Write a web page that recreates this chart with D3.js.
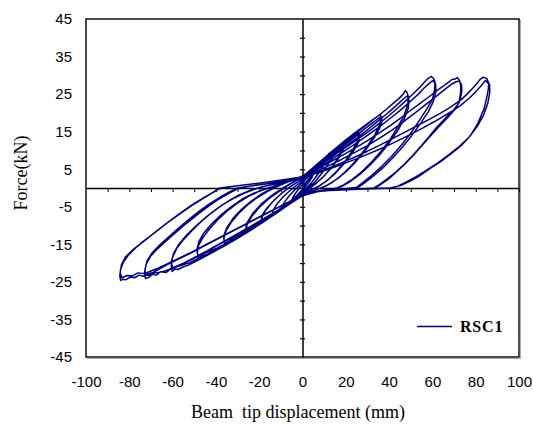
<!DOCTYPE html>
<html lang="en">
<head>
<meta charset="utf-8">
<title>RSC1 hysteresis</title>
<script src="https://d3js.org/d3.v7.min.js"></script>
<style>
  body { margin: 0; background: #fff; }
  .lab text { font-family: "Liberation Sans", Arial, sans-serif; font-size: 15px; fill: #000; }
  .cross path, .cross line { stroke: #000; }
</style>
</head>
<body>
<div id="chart"></div>
<script>
// tick labels and minor tick positions
var xLabels = [-100, -80, -60, -40, -20, 0, 20, 40, 60, 80, 100]
var yLabels = [45, 35, 25, 15, 5, -5, -15, -25, -35, -45]
var xMinor = [-90, -80, -70, -60, -50, -40, -30, -20, -10, 10, 20, 30, 40, 50, 60, 70, 80, 90, 100]
var yMinor = [-40, -35, -30, -25, -20, -15, -10, -5, 5, 10, 15, 20, 25, 30, 35, 40]

var cycleA = [[0,0],[1.5,1.2],[3,2.3],[5,3.8],[4.5,3],[3,1.6],[1.5,0.5],[0,-0.4],[-1.5,-1.3],[-3,-2.2],[-5,-3.4],[-4.5,-2.6],[-3,-1.2],[-1.5,0],[0,0.8],
  [2,1.8],[4,3.2],[6,4.5],[8,5.8],[10,7],[9.6,6],[8,4.4],[6,2.8],[4,1.3],[2,0.1],[0,-0.8],[-2,-1.8],[-4,-2.9],[-6,-3.9],[-8,-4.9],[-10,-5.9],[-9.6,-4.9],[-8,-3.5],[-6,-2],[-4,-0.7],[-2,0.4],[0,1.4]]
var cycleB = [[2,2.6],[5,4.3],[8,6],[11,7.8],[14,9.6],[13.6,8.3],[12,6.5],[9,4],[6,1.8],[3,0.1],[0,-1],[-3,-2.3],[-6,-3.6],[-9,-5],[-12,-6.3],[-14,-7.2],[-13.6,-6],[-12,-4.4],[-9,-2.4],[-6,-0.8],[-3,0.6],[0,1.8]]
var cycleC = [[3,3.2],[6,4.9],[10,7.1],[14,9.3],[17,11],[19,12.1],[18.7,10.6],[17,8.6],[14,5.9],[10,3.2],[6,1.1],[3,-0.2],[0,-1.2],[-4,-2.8],[-8,-4.5],[-12,-6.2],[-16,-7.8],[-19,-9],[-18.6,-7.6],[-17,-5.9],[-14,-3.8],[-10,-1.6],[-6,0.2],[-3,1.3],[0,2.3]]
var cycleD = [[3,3.4],[7,5.3],[11,7.5],[15,9.6],[18,11.2],[19.3,11.8],[18.8,10.2],[16.5,7.8],[13,5.1],[9,2.6],[5,0.7],[2,-0.5],[0,-1.3],[-4,-3],[-9,-5],[-13,-6.6],[-17,-8.1],[-19.2,-8.8],[-18.7,-7.3],[-16.5,-5.4],[-13,-3.2],[-9,-1.1],[-5,0.6],[-2,1.7],[0,2.5]]
var cycleE = [[4,4.3],[8,6.4],[12,8.5],[16,10.5],[20,12.3],[23,13.6],[26,14.7],[25.6,12.9],[23.5,10.4],[20,7.4],[16,4.6],[12,2.3],[8,0.6],[4,-0.5],[0,-1.6],[-5,-3.5],[-10,-5.5],[-15,-7.6],[-19,-9.2],[-23,-10.6],[-26,-11.6],[-25.7,-9.9],[-23.5,-7.6],[-20,-5.2],[-15,-2.6],[-10,-0.6],[-5,1.3],[0,2.9]]
var cycleF = [[4,4.5],[9,6.8],[14,9.2],[18,11.2],[22,12.9],[25,14],[26.4,14.2],[25.9,12.2],[23,9.3],[19,6.3],[15,3.8],[11,1.8],[7,0.3],[3,-0.7],[0,-1.6],[-5,-3.7],[-11,-6],[-16,-8],[-20.5,-9.6],[-24,-10.8],[-26.3,-11.3],[-25.8,-9.4],[-23,-6.8],[-19,-4.2],[-14,-1.9],[-9,0],[-4,1.7],[0,3]]
var cycleG = [[4,5],[8,7],[12,9],[16,10.9],[20,12.8],[24,14.6],[28,16.3],[32,18],[34.5,19],[36,19.6],[36.3,18.6],[35.6,16.8],[33.5,14.3],[30,11.2],[26,8.2],[22,5.6],[18,3.4],[14,1.6],[10,0.3],[6,-0.5],[3,-1.1],[0,-1.9],
  [-4,-3.4],[-8,-5],[-12,-6.6],[-16,-8.1],[-20,-9.6],[-24,-11],[-28,-12.3],[-31.5,-13.5],[-34,-14.2],[-36,-14.7],[-36.3,-13.4],[-35.4,-11.5],[-33,-9.2],[-29.5,-6.8],[-25.5,-4.6],[-21,-2.6],[-16.5,-1],[-12,0.3],[-8,1.3],[-4,2.2],[0,3.1]]
var cycleH = [[4,4.6],[9,6.6],[14,8.9],[19,11.2],[24,13.5],[28,15.4],[32,17.2],[35,18.5],[36.5,18.9],[36.6,17.6],[35.4,15.6],[32.5,12.8],[28.5,9.6],[24,6.6],[20,4.3],[16,2.4],[12,0.9],[8,-0.1],[4,-0.9],[0,-1.9],
  [-5,-3.7],[-10,-5.6],[-15,-7.5],[-20,-9.3],[-25,-11],[-29,-12.3],[-33,-13.5],[-36.2,-14.2],[-36.4,-12.8],[-35,-10.6],[-32,-8],[-28,-5.6],[-23.5,-3.4],[-19,-1.6],[-14,-0.1],[-9,1.1],[-4.5,2.1],[0,3.1]]
var cycleI = [[4,4.9],[8,6.8],[12,8.7],[16,10.6],[20,12.5],[24,14.3],[28,16.1],[32,17.9],[36,19.7],[39,21.1],[42,22.6],[44.5,23.8],[46.5,25],[47.5,25.9],[48.3,25.4],[48.9,24.3],[48.6,22.2],[46.8,19.2],[44,16.2],[40.5,13],[36.5,9.9],[32,7],[27.5,4.4],[23,2.3],[19,0.8],[16,0],[12,-0.4],[8,-0.7],[4,-1.1],[0,-1.9],
  [-5,-3.9],[-10,-5.8],[-15,-7.7],[-20,-9.5],[-25,-11.3],[-30,-13],[-34,-14.5],[-38,-15.8],[-41.5,-16.9],[-44.5,-17.8],[-46.5,-18.1],[-48,-18.7],[-48.6,-17.3],[-48,-15.3],[-46,-13.2],[-43,-10.9],[-39,-8.4],[-34.5,-6],[-30,-4],[-25,-2.2],[-20,-0.9],[-15,0.1],[-11,0.8],[-7,1.6],[-3,2.4],[0,3.1]]
var cycleJ = [[5,4.8],[10,6.8],[15,9],[20,11.1],[25,13.3],[30,15.5],[34,17.4],[38,19.3],[41.5,21],[44.5,22.6],[47,23.9],[48.5,24.5],[49.2,23.4],[48.9,21.3],[47,18.4],[44,15.3],[40,12],[35.5,8.7],[31,6],[26.5,3.6],[22,1.7],[18,0.4],[14,-0.3],[9,-0.6],[4,-1.1],[0,-2],
  [-6,-4.3],[-12,-6.6],[-18,-8.8],[-24,-10.9],[-30,-12.9],[-35,-14.6],[-39.5,-16],[-43.5,-17],[-46.5,-17.7],[-48.4,-17.9],[-48.8,-16.4],[-47.8,-14.2],[-45.5,-11.9],[-42,-9.6],[-37.5,-7.1],[-33,-5],[-28,-3],[-22.5,-1.4],[-17,-0.2],[-12,0.7],[-7,1.6],[-3,2.4],[0,3.2]]
var cycleK = [[5,5],[10,6.8],[15,8.8],[20,10.8],[25,12.8],[30,14.8],[35,17],[40,19.3],[44,21.3],[48,23.4],[51.5,25.3],[54.5,27],[56.5,28.3],[58,29.2],[59.5,29.7],[60.5,29.2],[61.2,28.2],[61,26.2],[60,23.6],[57.6,21.2],[54,18],[50,14.6],[45.5,11.3],[41,8.3],[36.5,5.7],[32,3.4],[28,1.5],[25,0.2],[20,-0.2],[14,-0.4],[8,-0.7],[3,-1.2],[0,-2],
  [-6,-4.3],[-12,-6.7],[-18,-9],[-24,-11.3],[-30,-13.4],[-36,-15.4],[-41,-17],[-45.5,-18.4],[-49.5,-19.6],[-53,-20.6],[-55.5,-21.1],[-57.5,-21.7],[-59,-21.6],[-60.2,-22.2],[-60.6,-20.6],[-60,-18.4],[-58,-16],[-55,-13.8],[-51,-11.3],[-46.5,-8.8],[-42,-6.6],[-37,-4.5],[-32,-2.8],[-27,-1.4],[-22,-0.3],[-17,0.5],[-12,1.1],[-7,1.8],[-3,2.5],[0,3.2]]
var cycleL = [[5,4.6],[10,6.3],[15,8.2],[20,10.1],[25,12],[30,14],[35,16.1],[40,18.3],[45,20.6],[49.5,22.9],[53.5,25],[56.5,26.8],[58.8,28],[60.2,28.6],[61.5,27.7],[61.6,25.6],[60.4,23],[58,20.2],[54.5,17.2],[50.5,14],[46,10.8],[41.5,7.9],[37,5.3],[32.5,3.1],[28.5,1.3],[25.5,0.1],[20,-0.3],[13,-0.5],[6,-0.9],[0,-2.1],
  [-7,-4.6],[-14,-7.2],[-21,-9.8],[-28,-12.4],[-34,-14.5],[-39.5,-16.3],[-44.5,-17.8],[-49,-19],[-52.5,-20],[-55.5,-20.5],[-58,-21],[-60,-21.3],[-60.6,-19.6],[-59.4,-17.2],[-57,-14.9],[-53.5,-12.5],[-49,-10],[-44,-7.5],[-39,-5.3],[-34,-3.4],[-29,-1.8],[-24,-0.6],[-19,0.3],[-13,1],[-7,1.7],[-3,2.5],[0,3.2]]
var cycleM = [[5,4.6],[10,6],[15,7.6],[20,9.2],[25,10.9],[30,12.6],[35,14.5],[40,16.4],[45,18.5],[50,20.7],[54,22.4],[58,24.1],[62,25.9],[65,27.1],[67.5,28.2],[69,28.9],[70.5,29],[71.5,29.4],[72.6,28.6],[73.1,27.2],[73,25.2],[72.2,22.6],[69.5,20.6],[66,18.6],[62,16.2],[58.5,13.7],[55,11.3],[51,8.7],[47,6.3],[43,4.2],[39,2.4],[35.5,0.9],[33,0],[26,-0.3],[18,-0.5],[10,-0.7],[4,-1.1],[0,-2],
  [-7,-4.4],[-14,-6.8],[-21,-9.2],[-28,-11.6],[-35,-13.9],[-42,-16.2],[-48,-18.1],[-53,-19.6],[-57,-20.8],[-60.5,-21.5],[-63,-22.5],[-65.5,-22.3],[-67.5,-23.2],[-69.5,-23],[-71,-23.8],[-72.5,-24.1],[-73,-22.6],[-72.2,-20.3],[-70.2,-18.2],[-67,-16.2],[-63,-14.1],[-58.5,-11.8],[-54,-9.6],[-49,-7.3],[-44,-5.1],[-39,-3.1],[-34,-1.4],[-30,-0.2],[-24,0.5],[-17,1.1],[-10,1.7],[-4,2.4],[0,3]]
var cycleN = [[6,4.4],[12,5.9],[18,7.6],[24,9.4],[30,11.3],[36,13.4],[42,15.7],[47,17.8],[52,20],[56,21.8],[60,23.6],[63.5,25.2],[66.5,26.6],[69,27.7],[71,28.3],[72.3,28.5],[73.4,27.6],[73.6,25.8],[72.8,23.4],[70.5,21],[67,18.7],[63,16.3],[59,13.8],[55,11.2],[51,8.6],[47,6.2],[43,4.1],[39.5,2.3],[36,0.9],[33.5,0],[25,-0.3],[16,-0.5],[8,-0.8],[0,-2.1],
  [-8,-4.8],[-16,-7.5],[-24,-10.2],[-32,-12.8],[-39,-15.1],[-45,-17],[-50.5,-18.7],[-55,-20],[-59,-21],[-62.5,-21.9],[-65.5,-22.4],[-68,-22.6],[-70,-23.1],[-72.3,-23.3],[-72.8,-21.8],[-71.8,-19.4],[-69.5,-17.3],[-66,-15.2],[-62,-13.1],[-57.5,-10.8],[-53,-8.6],[-48,-6.3],[-43,-4.2],[-38,-2.4],[-33.5,-1],[-30,0],[-23,0.6],[-15,1.2],[-8,1.8],[-3,2.5],[0,2.9]]
var cycleO = [[6,4],[12,5.3],[18,6.7],[24,8.2],[30,9.8],[36,11.5],[42,13.3],[48,15.1],[54,16.9],[59,18.4],[64,20],[68,21.4],[71,22.6],[73.5,23.6],[76,25],[78.5,26.5],[80.7,27.9],[82,28.9],[83.5,29.5],[85,29.2],[86,28],[85.8,26.2],[85.2,24.3],[83.8,21],[81,17.2],[77.5,13.9],[73.5,11.4],[69,9.3],[64,7.1],[59,5.2],[54.5,3.4],[50,1.9],[45.5,0.7],[41,0],[32,-0.2],[22,-0.4],[12,-0.6],[5,-1.1],[0,-1.9],
  [-8,-4.2],[-16,-6.6],[-24,-9],[-32,-11.4],[-40,-13.8],[-47,-15.9],[-53,-17.7],[-58,-19.1],[-62.5,-20.4],[-66,-21.5],[-69,-22.5],[-71.5,-22.9],[-73.5,-23.5],[-75.5,-23.2],[-77.5,-23.9],[-79.5,-23.7],[-81.5,-24.4],[-83,-24.3],[-84,-24.6],[-84.4,-23.4],[-84,-21.6],[-82.8,-19.8],[-80.5,-17.9],[-77,-15.9],[-72.5,-13.8],[-67,-11.3],[-61,-8.6],[-55.5,-6.3],[-50,-4.1],[-45,-2.4],[-41,-1.1],[-38,0],[-30,0.6],[-21,1.2],[-12,1.9],[-5,2.5],[0,3]]
var cycleP = [[7,4],[14,5.4],[21,6.9],[28,8.5],[35,10.2],[42,12],[49,14],[55,15.8],[61,17.7],[66,19.4],[70,20.8],[73.5,22.2],[77,23.9],[80,25.6],[82.5,27.2],[84.5,28.6],[86.4,27.6],[86.5,25.5],[85.6,22.6],[83.5,19.2],[80.5,16.2],[77,13.6],[72.5,11.1],[67.5,8.8],[62.5,6.7],[57.5,4.8],[52.5,3],[48,1.6],[44,0.5],[40.5,0],[30,-0.2],[20,-0.4],[10,-0.6],[0,-1.9],
  [-9,-4.5],[-18,-7.1],[-27,-9.8],[-36,-12.5],[-44,-14.9],[-51,-17],[-57,-18.7],[-62,-20.1],[-66.5,-21.3],[-70,-22.1],[-73,-22.8],[-76,-22.6],[-78.5,-23.4],[-81,-23.3],[-83.5,-23.9],[-84.2,-22.5],[-83.6,-20.4],[-81.8,-18.4],[-78.5,-16.5],[-74,-14.4],[-68.5,-12],[-62.5,-9.3],[-56.5,-6.8],[-51,-4.6],[-46,-2.8],[-42,-1.4],[-39,-0.3],[-33,0.3]]

var cycles = [cycleA, cycleB, cycleC, cycleD, cycleE, cycleF, cycleG, cycleH, cycleI, cycleJ, cycleK, cycleL, cycleM, cycleN, cycleO, cycleP]

var w = 533
var h = 425
var plotL = 86, plotR = 519, plotT = 19, plotB = 357
var lineColor = "#000080"

var svg = d3.select("#chart")
  .append("svg")
  .attr("width", w)
  .attr("height", h)
  .style("display", "block")

var xScale = d3.scaleLinear()
  .domain([-100, 100])
  .range([plotL, plotR])

var yScale = d3.scaleLinear()
  .domain([-45, 45])
  .range([plotB, plotT])

// plain hyphen minus like the original, not the unicode minus d3 uses
var plainNum = function(d) { return String(d) }

// frame with a faint shadow on the right and bottom
svg.append("rect")
  .attr("x", plotL + 1.5).attr("y", plotT + 1.5)
  .attr("width", plotR - plotL).attr("height", plotB - plotT)
  .attr("fill", "none").attr("stroke", "#aaa").attr("stroke-width", 1)
svg.append("rect")
  .attr("x", plotL).attr("y", plotT)
  .attr("width", plotR - plotL).attr("height", plotB - plotT)
  .attr("fill", "#fff").attr("stroke", "#000").attr("stroke-width", 1.4)

// tick labels outside the frame
var yLab = svg.append("g")
  .attr("class", "lab")
  .attr("transform", "translate(" + plotL + ",0)")
  .call(d3.axisLeft(yScale).tickValues(yLabels).tickSize(0).tickPadding(14).tickFormat(plainNum))
yLab.select(".domain").remove()

var xLab = svg.append("g")
  .attr("class", "lab")
  .attr("transform", "translate(0," + plotB + ")")
  .call(d3.axisBottom(xScale).tickValues(xLabels).tickSize(0).tickPadding(19).tickFormat(plainNum))
xLab.select(".domain").remove()

// axes crossing at the origin
var xCross = svg.append("g")
  .attr("class", "cross")
  .attr("transform", "translate(0," + yScale(0) + ")")
  .call(d3.axisBottom(xScale).tickValues(xMinor).tickSize(4).tickSizeOuter(0).tickFormat(""))
xCross.select(".domain").attr("stroke-width", 1.5)

var yCross = svg.append("g")
  .attr("class", "cross")
  .attr("transform", "translate(" + xScale(0) + ",0)")
  .call(d3.axisLeft(yScale).tickValues(yMinor).tickSize(2.5).tickSizeOuter(0).tickFormat(""))
yCross.select(".domain").attr("stroke-width", 1.5)
yCross.selectAll(".tick line").attr("x1", 2.5).attr("stroke-width", 1.2)

// the hysteresis record, drawn as one continuous trace
var allPoints = [].concat.apply([], cycles)
var line = d3.line()
  .x(function(d) { return xScale(d[0]) })
  .y(function(d) { return yScale(d[1]) })

svg.append("path")
  .datum(allPoints)
  .attr("d", line)
  .attr("fill", "none")
  .attr("stroke", lineColor)
  .attr("stroke-width", 1.5)
  .attr("stroke-linejoin", "round")

// legend
svg.append("line")
  .attr("x1", 417).attr("x2", 452)
  .attr("y1", 326.5).attr("y2", 326.5)
  .attr("stroke", lineColor).attr("stroke-width", 1.3)
svg.append("text")
  .attr("x", 460).attr("y", 332)
  .style("font-family", "'Liberation Serif', 'Times New Roman', serif")
  .style("font-size", "16px")
  .style("font-weight", "bold")
  .style("letter-spacing", "0.8px")
  .text("RSC1")

// axis titles
svg.append("text")
  .attr("x", 298).attr("y", 418)
  .attr("text-anchor", "middle")
  .style("white-space", "pre")
  .style("font-family", "'Liberation Serif', 'Times New Roman', serif")
  .style("font-size", "18px")
  .text("Beam  tip displacement (mm)")

svg.append("text")
  .attr("transform", "translate(27,173) rotate(-90)")
  .attr("text-anchor", "middle")
  .style("font-family", "'Liberation Serif', 'Times New Roman', serif")
  .style("font-size", "18px")
  .text("Force(kN)")
</script>
</body>
</html>
